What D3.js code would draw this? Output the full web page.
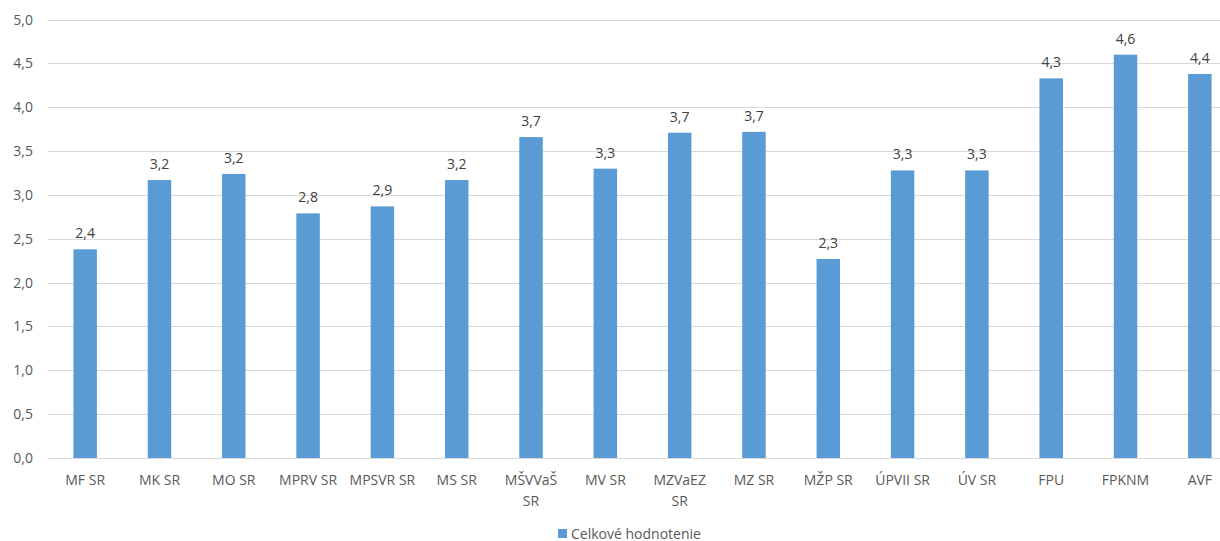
<!DOCTYPE html>
<html>
<head>
<meta charset="utf-8">
<script src="https://cdn.jsdelivr.net/npm/d3@7"></script>
<style>
  body { margin: 0; background: #fff; }
  svg text { font-family: "Open Sans", "Noto Sans", sans-serif; }
</style>
</head>
<body>
<div id="chart"></div>
<script>
// data
var categories = ["MF SR", "MK SR", "MO SR", "MPRV SR", "MPSVR SR", "MS SR", "MŠVVaŠ SR", "MV SR",
  "MZVaEZ SR", "MZ SR", "MŽP SR", "ÚPVII SR", "ÚV SR", "FPU", "FPKNM", "AVF"];
var values = [2.38, 3.17, 3.24, 2.79, 2.87, 3.17, 3.66, 3.30, 3.71, 3.72, 2.27, 3.28, 3.28, 4.33, 4.60, 4.38];
var yTicks = [0, 0.5, 1, 1.5, 2, 2.5, 3, 3.5, 4, 4.5, 5];
var seriesName = "Celkové hodnotenie";

var width = 1220, height = 541;
var plot = { left: 48, right: 1237, top: 19.6, bottom: 458 };

var svg = d3.select("#chart").append("svg")
  .attr("width", width)
  .attr("height", height);

var x = d3.scaleBand()
  .domain(categories)
  .range([plot.left, plot.right])
  .paddingInner(0.684)
  .paddingOuter(0.342);

var y = d3.scaleLinear()
  .domain([0, 5])
  .range([plot.bottom, plot.top]);

var fmt = function(v){ return d3.format(".1f")(v).replace(".", ","); };

// gridlines
svg.append("g")
  .selectAll("line")
  .data(yTicks)
  .enter()
  .append("line")
    .attr("x1", plot.left)
    .attr("x2", width)
    .attr("y1", function(d){ return Math.round(y(d)) + 0.5; })
    .attr("y2", function(d){ return Math.round(y(d)) + 0.5; })
    .attr("stroke", "#d9d9d9")
    .attr("stroke-width", 1);

// y axis labels
var yAxis = d3.axisLeft(y).tickValues(yTicks).tickFormat(fmt).tickSize(0).tickPadding(15);
svg.append("g")
  .attr("transform", "translate(" + plot.left + ",0)")
  .call(yAxis)
  .call(function(g){ g.select(".domain").remove(); })
  .selectAll("text")
    .attr("fill", "#595959")
    .attr("font-size", "14px");

// bars
svg.append("g")
  .selectAll("rect")
  .data(values)
  .enter()
  .append("rect")
    .attr("x", function(d, i){ return x(categories[i]); })
    .attr("y", function(d){ return y(d); })
    .attr("width", x.bandwidth())
    .attr("height", function(d){ return y(0) - y(d); })
    .attr("fill", "#5b9bd5");

// value labels
svg.append("g")
  .selectAll("text")
  .data(values)
  .enter()
  .append("text")
    .attr("x", function(d, i){ return x(categories[i]) + x.bandwidth() / 2; })
    .attr("y", function(d){ return y(d) - 11; })
    .attr("text-anchor", "middle")
    .attr("font-size", "14px")
    .attr("fill", "#404040")
    .text(fmt);

// category labels, wrap two-line ones
var catG = svg.append("g");
categories.forEach(function(c, i){
  var cx = x(c) + x.bandwidth() / 2;
  var lines = (c === "MŠVVaŠ SR" || c === "MZVaEZ SR") ? c.split(" ") : [c];
  var t = catG.append("text")
    .attr("x", cx)
    .attr("y", 485)
    .attr("text-anchor", "middle")
    .attr("font-size", "14px")
    .attr("fill", "#595959");
  lines.forEach(function(l, j){
    t.append("tspan").attr("x", cx).attr("dy", j === 0 ? 0 : 21).text(l);
  });
});

// legend
var legend = svg.append("g").attr("transform", "translate(558,529)");
legend.append("rect")
  .attr("x", 0).attr("y", 0)
  .attr("width", 9).attr("height", 9)
  .attr("fill", "#5b9bd5");
legend.append("text")
  .attr("x", 13).attr("y", 9.5)
  .attr("font-size", "14px")
  .attr("fill", "#595959")
  .text(seriesName);
</script>
</body>
</html>
